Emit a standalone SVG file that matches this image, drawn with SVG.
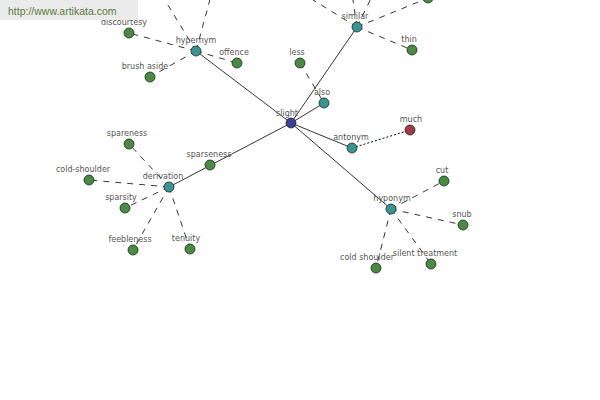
<svg xmlns="http://www.w3.org/2000/svg" width="600" height="400" viewBox="0 0 600 400">
<style>
.s{stroke:#000;stroke-width:0.8;fill:none}
.d{stroke:#000;stroke-width:0.8;fill:none;stroke-dasharray:6,6}
.o{stroke:#000;stroke-width:1;fill:none;stroke-dasharray:2,2}
.n{stroke:#1a2a1a;stroke-width:0.8}
.g{fill:#4a8a45}
.t{fill:#3a9494}
.b{fill:#3c3f96}
.r{fill:#a23a48}
text{font-family:"DejaVu Sans",Verdana,sans-serif;font-size:8px;fill:#555;text-anchor:middle}
</style>
<rect width="600" height="400" fill="#fff"/>
<g id="connectors">
<line class="s" x1="291" y1="123" x2="196" y2="51"/>
<line class="s" x1="291" y1="123" x2="357" y2="27"/>
<line class="s" x1="291" y1="123" x2="324" y2="103"/>
<line class="s" x1="291" y1="123" x2="352" y2="148"/>
<line class="s" x1="291" y1="123" x2="391" y2="209"/>
<line class="s" x1="291" y1="123" x2="169" y2="187"/>
<line class="o" x1="352" y1="148" x2="410" y2="130"/>
<line class="d" x1="300" y1="63" x2="324" y2="103"/>
<line class="d" x1="196" y1="51" x2="129" y2="33"/>
<line class="d" x1="196" y1="51" x2="150" y2="77"/>
<line class="d" x1="196" y1="51" x2="237" y2="63"/>
<line class="d" x1="196" y1="51" x2="160" y2="-8"/>
<line class="d" x1="196" y1="51" x2="212" y2="-8"/>
<line class="d" x1="357" y1="27" x2="412" y2="50"/>
<line class="d" x1="357" y1="27" x2="428" y2="-2"/>
<line class="d" x1="357" y1="27" x2="305" y2="-5"/>
<line class="d" x1="357" y1="27" x2="350" y2="-20"/>
<line class="d" x1="357" y1="27" x2="380" y2="-20"/>
<line class="d" x1="169" y1="187" x2="129" y2="144"/>
<line class="d" x1="169" y1="187" x2="89" y2="180"/>
<line class="d" x1="169" y1="187" x2="125" y2="208"/>
<line class="d" x1="169" y1="187" x2="133" y2="250"/>
<line class="d" x1="169" y1="187" x2="190" y2="249"/>
<line class="d" x1="391" y1="209" x2="444" y2="181"/>
<line class="d" x1="391" y1="209" x2="463" y2="225"/>
<line class="d" x1="391" y1="209" x2="376" y2="268"/>
<line class="d" x1="391" y1="209" x2="431" y2="264"/>
</g>
<g id="n-slight"><circle class="n b" cx="291" cy="123" r="5"/><text x="287" y="116">slight</text></g>
<g id="n-hypernym"><circle class="n t" cx="196" cy="51" r="5"/><text x="196" y="43">hypernym</text></g>
<g id="n-similar"><circle class="n t" cx="357" cy="27" r="5"/><text x="355" y="19">similar</text></g>
<g id="n-also"><circle class="n t" cx="324" cy="103" r="5"/><text x="322" y="95">also</text></g>
<g id="n-antonym"><circle class="n t" cx="352" cy="148" r="5"/><text x="351" y="140">antonym</text></g>
<g id="n-much"><circle class="n r" cx="410" cy="130" r="5"/><text x="411" y="122">much</text></g>
<g id="n-hyponym"><circle class="n t" cx="391" cy="209" r="5"/><text x="392" y="201">hyponym</text></g>
<g id="n-derivation"><circle class="n t" cx="169" cy="187" r="5"/><text x="163" y="179">derivation</text></g>
<g id="n-sparseness"><circle class="n g" cx="210" cy="165" r="5"/><text x="209" y="157">sparseness</text></g>
<g id="n-less"><circle class="n g" cx="300" cy="63" r="5"/><text x="297" y="55">less</text></g>
<g id="n-discourtesy"><circle class="n g" cx="129" cy="33" r="5"/><text x="124" y="25">discourtesy</text></g>
<g id="n-brush-aside"><circle class="n g" cx="150" cy="77" r="5"/><text x="145" y="69">brush aside</text></g>
<g id="n-offence"><circle class="n g" cx="237" cy="63" r="5"/><text x="234" y="55">offence</text></g>
<g id="n-thin"><circle class="n g" cx="412" cy="50" r="5"/><text x="409" y="42">thin</text></g>
<g id="n-top"><circle class="n g" cx="428" cy="-2" r="5"/></g>
<g id="n-spareness"><circle class="n g" cx="129" cy="144" r="5"/><text x="127" y="136">spareness</text></g>
<g id="n-cold-shoulder"><circle class="n g" cx="89" cy="180" r="5"/><text x="83" y="172">cold-shoulder</text></g>
<g id="n-sparsity"><circle class="n g" cx="125" cy="208" r="5"/><text x="121" y="200">sparsity</text></g>
<g id="n-feebleness"><circle class="n g" cx="133" cy="250" r="5"/><text x="130" y="242">feebleness</text></g>
<g id="n-tenuity"><circle class="n g" cx="190" cy="249" r="5"/><text x="186" y="241">tenuity</text></g>
<g id="n-cut"><circle class="n g" cx="444" cy="181" r="5"/><text x="442" y="173">cut</text></g>
<g id="n-snub"><circle class="n g" cx="463" cy="225" r="5"/><text x="462" y="217">snub</text></g>
<g id="n-cold-shoulder2"><circle class="n g" cx="376" cy="268" r="5"/><text x="367" y="260">cold shoulder</text></g>
<g id="n-silent-treatment"><circle class="n g" cx="431" cy="264" r="5"/><text x="425" y="256">silent treatment</text></g>
<g id="watermark">
<rect x="0" y="0" width="138" height="20" fill="#ebebeb"/>
<text x="8" y="15" style="text-anchor:start;font-family:'Liberation Sans',Arial,sans-serif;font-size:10.5px;fill:#5b7a3a">http://www.artikata.com</text>
</g>
</svg>
